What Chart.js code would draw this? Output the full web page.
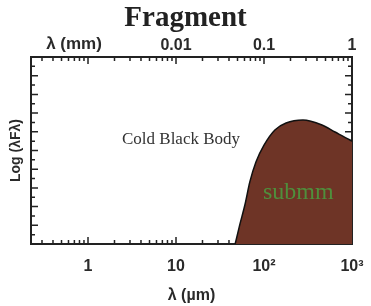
<!DOCTYPE html>
<html lang="en">
<head>
  <meta charset="UTF-8" />
  <title>Fragment</title>
  <script src="https://cdn.jsdelivr.net/npm/chart.js"></script>
  <style>
    html, body { margin: 0; padding: 0; background: #fff; }
    #wrap { width: 371px; height: 306px; position: relative; }
  </style>
</head>
<body>
  <div id="wrap"><canvas id="sedChart"></canvas></div>

  <script>
    // wavelength (µm) and log(λFλ) along the cold black body curve
    const waveUm = [47, 53, 61, 69, 81, 100, 133, 178, 277, 456, 641, 949, 1000];
    const logFlux = [0, 1.02, 2.14, 3.32, 4.39, 5.29, 6.1, 6.47, 6.63, 6.36, 5.99, 5.56, 5.5];

    const bottomTicks = [1, 10, 100, 1000];
    const bottomLabels = ['1', '10', '10²', '10³'];
    const topTicks = [10, 100, 1000];
    const topLabels = ['0.01', '0.1', '1'];

    const axisColor = '#222';
    const labelFont = { family: 'Liberation Sans', size: 16, weight: 'bold' };

    // tick marks pointing into the plot, on all four sides
    const inwardTicks = {
      id: 'inwardTicks',
      beforeDatasetsDraw(chart) {
        const { ctx, chartArea: a, scales } = chart;
        ctx.save();
        ctx.strokeStyle = axisColor;
        ctx.lineWidth = 1.5;
        ctx.beginPath();
        for (let d = -1; d <= 3; d++) {
          for (let m = 1; m <= 9; m++) {
            const v = m * Math.pow(10, d);
            if (v < scales.x.min || v > scales.x.max) continue;
            const px = scales.x.getPixelForValue(v);
            const len = m === 1 ? 7 : 4;
            ctx.moveTo(px, a.bottom); ctx.lineTo(px, a.bottom - len);
            ctx.moveTo(px, a.top); ctx.lineTo(px, a.top + len);
          }
        }
        for (let v = 0; v <= 10; v += 0.5) {
          const py = scales.y.getPixelForValue(v);
          const len = v % 1 === 0 ? 7 : 4;
          ctx.moveTo(a.left, py); ctx.lineTo(a.left + len, py);
          ctx.moveTo(a.right, py); ctx.lineTo(a.right - len, py);
        }
        ctx.stroke();
        ctx.restore();
      },
      afterDatasetsDraw(chart) {
        const { ctx, scales } = chart;
        ctx.save();
        ctx.textAlign = 'center';
        ctx.textBaseline = 'middle';
        ctx.fillStyle = '#333';
        ctx.font = '17px "Liberation Serif", serif';
        ctx.fillText('Cold Black Body', scales.x.getPixelForValue(11.4), scales.y.getPixelForValue(5.56));
        ctx.fillStyle = '#4f8f3c';
        ctx.font = '24px "Liberation Serif", serif';
        ctx.fillText('submm', scales.x.getPixelForValue(245), scales.y.getPixelForValue(2.73));
        ctx.fillStyle = '#2a2a2a';
        ctx.font = 'bold 17px "Liberation Sans", sans-serif';
        ctx.fillText('λ (mm)', 74, 44);
        ctx.restore();
      }
    };

    const noSidePad = s => { s.paddingLeft = 0; s.paddingRight = 0; };

    new Chart(document.getElementById('sedChart'), {
      type: 'line',
      data: {
        datasets: [{
          data: waveUm.map((w, i) => ({ x: w, y: logFlux[i] })),
          borderColor: '#111',
          borderWidth: 1.5,
          backgroundColor: 'rgb(110, 52, 38)',
          fill: 'origin',
          pointRadius: 0,
          cubicInterpolationMode: 'monotone'
        }]
      },
      options: {
        responsive: true,
        maintainAspectRatio: false,
        animation: false,
        layout: { padding: 0 },
        plugins: {
          legend: { display: false },
          tooltip: { enabled: false },
          title: {
            display: true,
            text: 'Fragment',
            color: '#222',
            font: { family: 'Liberation Serif', size: 29, weight: 'bold' },
            padding: { top: 1, bottom: 0 }
          }
        },
        scales: {
          x: {
            type: 'logarithmic',
            position: 'bottom',
            min: 0.225,
            max: 1000,
            grid: { display: false, drawTicks: false },
            border: { display: true, color: axisColor, width: 2 },
            afterBuildTicks: s => { s.ticks = bottomTicks.map(v => ({ value: v })); },
            ticks: {
              autoSkip: false,
              maxRotation: 0,
              padding: 13,
              color: '#2a2a2a',
              font: labelFont,
              callback: v => bottomLabels[bottomTicks.indexOf(v)]
            },
            title: {
              display: true,
              text: 'λ (µm)',
              color: '#2a2a2a',
              font: labelFont,
              padding: { top: 0, bottom: 1 }
            },
            afterFit: s => { s.height = 62; noSidePad(s); }
          },
          x2: {
            axis: 'x',
            type: 'logarithmic',
            position: 'top',
            min: 0.225,
            max: 1000,
            grid: { display: false, drawTicks: false },
            border: { display: true, color: axisColor, width: 2 },
            afterBuildTicks: s => { s.ticks = topTicks.map(v => ({ value: v })); },
            ticks: {
              autoSkip: false,
              maxRotation: 0,
              padding: 2,
              color: '#2a2a2a',
              font: labelFont,
              callback: v => topLabels[topTicks.indexOf(v)]
            },
            afterFit: s => { s.height = 21.2; noSidePad(s); }
          },
          y: {
            type: 'linear',
            position: 'left',
            min: 0,
            max: 10,
            grid: { display: false, drawTicks: false },
            border: { display: true, color: axisColor, width: 2 },
            ticks: { display: false },
            title: {
              display: true,
              text: 'Log (λFλ)',
              color: '#2a2a2a',
              font: { family: 'Liberation Sans', size: 14, weight: 'bold' },
              padding: { top: 8, bottom: 0 }
            },
            afterFit: s => { s.width = 31; }
          },
          y2: {
            axis: 'y',
            type: 'linear',
            position: 'right',
            min: 0,
            max: 10,
            grid: { display: false, drawTicks: false },
            border: { display: true, color: axisColor, width: 2 },
            ticks: { display: false },
            afterFit: s => { s.width = 19; }
          }
        }
      },
      plugins: [inwardTicks]
    });
  </script>
</body>
</html>
